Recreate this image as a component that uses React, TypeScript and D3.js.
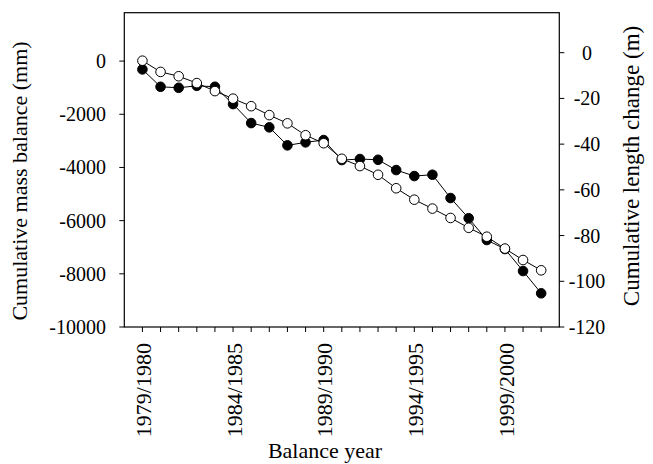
import React, { useEffect, useRef } from 'react';
import * as d3 from 'd3';

// balance years 1979/1980 .. 2001/2002
const years = [
  '1979/1980', '1980/1981', '1981/1982', '1982/1983', '1983/1984',
  '1984/1985', '1985/1986', '1986/1987', '1987/1988', '1988/1989',
  '1989/1990', '1990/1991', '1991/1992', '1992/1993', '1993/1994',
  '1994/1995', '1995/1996', '1996/1997', '1997/1998', '1998/1999',
  '1999/2000', '2000/2001', '2001/2002',
];

// cumulative mass balance (mm w.e.) - filled dots, left axis
const massBalance = [
  -312, -966, -1004, -929, -966, -1617, -2331, -2492, -3169, -3056,
  -2970, -3722, -3684, -3711, -4098, -4323, -4274, -5150, -5910, -6729,
  -7068, -7895, -8733,
];

// cumulative length change (m) - open dots, right axis
const lengthChange = [
  -3.5, -8.4, -10.3, -13.3, -16.8, -20.1, -23.4, -27.3, -30.9, -36.1,
  -39.6, -46.4, -49.6, -53.4, -59.3, -64.3, -68.2, -72.3, -76.6, -80.5,
  -85.7, -90.7, -95.2,
];

const leftTicks = [0, -2000, -4000, -6000, -8000, -10000];
const rightTicks = [0, -20, -40, -60, -80, -100, -120];
const labelYears = [0, 5, 10, 15, 20];

function App() {
  const ref = useRef<SVGSVGElement>(null);

  useEffect(() => {
    const width = 653;
    const height = 464;
    const left = 124.3, right = 559.3, top = 12.7, bottom = 327;
    const font = '"Liberation Serif", "Times New Roman", serif';

    const svg = d3.select(ref.current);
    svg.selectAll('*').remove();
    svg.attr('width', width).attr('height', height);

    const x = d3.scaleLinear().domain([-1, 23]).range([left, right]);
    const yL = d3.scaleLinear().domain([-10000, 1820]).range([bottom, top]);
    const yR = d3.scaleLinear().domain([-120, 17.5]).range([bottom, top]);

    // frame
    svg.append('rect')
      .attr('x', left).attr('y', top)
      .attr('width', right - left).attr('height', bottom - top)
      .attr('fill', 'none').attr('stroke', '#000').attr('stroke-width', 1.2);

    // left axis
    const gl = svg.append('g');
    gl.selectAll('line').data(leftTicks).enter().append('line')
      .attr('x1', left - 5).attr('x2', left)
      .attr('y1', d => yL(d)).attr('y2', d => yL(d))
      .attr('stroke', '#000');
    gl.selectAll('text').data(leftTicks).enter().append('text')
      .attr('x', 106).attr('y', d => yL(d))
      .attr('dy', '0.35em')
      .attr('text-anchor', 'end')
      .attr('font-family', font).attr('font-size', 20)
      .text(d => d.toString());

    // right axis
    const gr = svg.append('g');
    gr.selectAll('line').data(rightTicks).enter().append('line')
      .attr('x1', right).attr('x2', right + 5)
      .attr('y1', d => yR(d)).attr('y2', d => yR(d))
      .attr('stroke', '#000');
    gr.selectAll('text').data(rightTicks).enter().append('text')
      .attr('x', 587).attr('y', d => yR(d))
      .attr('dy', '0.35em')
      .attr('text-anchor', 'middle')
      .attr('font-family', font).attr('font-size', 20)
      .text(d => d.toString());

    // x axis
    const gx = svg.append('g');
    gx.selectAll('line').data(years).enter().append('line')
      .attr('x1', (d, i) => x(i)).attr('x2', (d, i) => x(i))
      .attr('y1', bottom).attr('y2', bottom + 5)
      .attr('stroke', '#000');
    gx.selectAll('text').data(labelYears).enter().append('text')
      .attr('transform', d => 'translate(' + (x(d) + 1) + ',343) rotate(-90)')
      .attr('dy', '0.35em')
      .attr('text-anchor', 'end')
      .attr('font-family', font).attr('font-size', 22)
      .text(d => years[d]);

    // axis titles
    svg.append('text')
      .attr('transform', 'translate(19,181) rotate(-90)')
      .attr('dy', '0.35em')
      .attr('text-anchor', 'middle')
      .attr('font-family', font).attr('font-size', 22)
      .text('Cumulative mass balance (mm)');
    svg.append('text')
      .attr('transform', 'translate(631,166) rotate(-90)')
      .attr('dy', '0.35em')
      .attr('text-anchor', 'middle')
      .attr('font-family', font).attr('font-size', 23)
      .text('Cumulative length change (m)');
    svg.append('text')
      .attr('x', 325).attr('y', 458)
      .attr('text-anchor', 'middle')
      .attr('font-family', font).attr('font-size', 22)
      .text('Balance year');

    // mass balance series
    const lineL = d3.line<number>().x((d, i) => x(i)).y(d => yL(d));
    svg.append('path').datum(massBalance)
      .attr('d', lineL)
      .attr('fill', 'none').attr('stroke', '#000').attr('stroke-width', 1);
    svg.append('g').selectAll('circle').data(massBalance).enter().append('circle')
      .attr('cx', (d, i) => x(i)).attr('cy', d => yL(d))
      .attr('r', 4.8)
      .attr('fill', '#000').attr('stroke', '#000');

    // length change series
    const lineR = d3.line<number>().x((d, i) => x(i)).y(d => yR(d));
    svg.append('path').datum(lengthChange)
      .attr('d', lineR)
      .attr('fill', 'none').attr('stroke', '#000').attr('stroke-width', 1);
    svg.append('g').selectAll('circle').data(lengthChange).enter().append('circle')
      .attr('cx', (d, i) => x(i)).attr('cy', d => yR(d))
      .attr('r', 4.8)
      .attr('fill', '#fff').attr('stroke', '#000').attr('stroke-width', 1);
  }, []);

  return (
    <div style={{ position: 'absolute', left: 0, top: 0 }}>
      <svg ref={ref} style={{ display: 'block', background: 'white' }}></svg>
    </div>
  );
}

export default App;
